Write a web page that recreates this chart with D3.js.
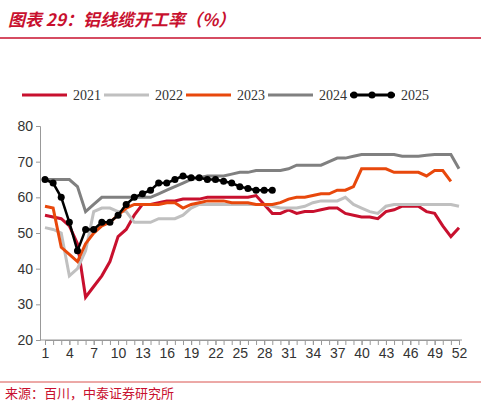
<!DOCTYPE html>
<html><head><meta charset="utf-8">
<script src="https://cdn.jsdelivr.net/npm/d3@7"></script>
<style>body{margin:0;background:#fff;font-family:"Noto Sans CJK SC","Liberation Sans",sans-serif;}</style>
</head><body>
<script>
var weeks = d3.range(1, 53);
var xTicks = [1,4,7,10,13,16,19,22,25,28,31,34,37,40,43,46,49,52];
var yTicks = [20,30,40,50,60,70,80];
var s2021 = [55,54.5,54,52,47,32,35,38,42,49,51,55,58,58,58.5,59,59,59.5,59.5,59.5,60,60,60,60,60,60,60.5,58,55.5,55.5,56.5,55.5,56,56,56.5,57,57,55.5,55,54.5,54.5,54,56,56.5,57.5,57.5,57.5,56,55.5,52,49,51.5];
var s2022 = [51.5,51,50,38,40,45,56,57,57,56,56,53,53,53,54,54,54,55,57,58,58,58,58,58,58,58,58,58,57.5,57,57,57,57.5,58.5,59,59,59,60,58,57,56,55.5,57.5,58,58,58,58,58,58,58,58,57.5];
var s2023 = [57.5,57,46,44,42,47,50,52,53,55,57,58,58,58,58,58.5,58.5,57,58,58.5,59,59,59,58.5,58.5,58.5,58,58,58,58.5,59.5,60,60,60.5,61,61,62,62,63,68,68,68,68,67,67,67,67,66,67.5,67.5,64.5];
var s2024 = [65,65,65,65,63,56,58,60,60,60,60,60,60,60,61,62,63,64,65,65.5,66,66,66,66.5,67,67,67.5,67.5,67.5,67.5,68,69,69,69,69,70,71,71,71.5,72,72,72,72,72,71.5,71.5,71.5,71.8,72,72,72,68];
var s2025 = [65,64,60,53,45,51,51,53,53,55,58,60,61,62,64,64,65,66,65.5,65.5,65,65,64.5,64,63,62.5,62,62,62];
var names = ["2021","2022","2023","2024","2025"];
var colors = ["#c8102e","#c0c0c0","#e8480c","#808080","#000000"];
var series = [s2021,s2022,s2023,s2024,s2025];

var svg = d3.select("body").append("svg").attr("width",481).attr("height",405);

// title
svg.append("text").attr("x",8).attr("y",26).attr("fill","#c8102e")
  .attr("font-size",17).attr("font-weight","bold").attr("font-style","italic")
  .text("图表 29：铝线缆开工率（%）");
svg.append("line").attr("x1",0).attr("x2",481).attr("y1",38).attr("y2",38)
  .attr("stroke","#c8102e").attr("stroke-width",1.5);

var x = d3.scaleLinear().domain([1,52]).range([45,459]);
var y = d3.scaleLinear().domain([20,80]).range([340,126]);

var ya = svg.append("g").attr("transform","translate(40,0)")
  .call(d3.axisLeft(y).tickValues(yTicks).tickSize(4).tickFormat(d3.format("d")));
ya.selectAll("text").attr("font-size",14).attr("fill","#333").attr("font-family","Liberation Sans,sans-serif");
ya.selectAll("line,path").attr("stroke","#999");

// minor week ticks
svg.append("g").attr("transform","translate(0,340)")
  .call(d3.axisBottom(x).tickValues(weeks).tickSize(5).tickFormat(""))
  .selectAll("line,path").attr("stroke","#999");
var xa = svg.append("g").attr("transform","translate(0,340)")
  .call(d3.axisBottom(x).tickValues(xTicks).tickSize(5).tickFormat(d3.format("d")));
xa.select(".domain").attr("d","M40,0H462");
xa.selectAll("text").attr("font-size",14).attr("fill","#333").attr("font-family","Liberation Sans,sans-serif");
xa.selectAll("line,path").attr("stroke","#999");

var line = d3.line().x((d,i)=>x(i+1)).y(d=>y(d));
series.forEach(function(s,k){
  svg.append("path").attr("d",line(s)).attr("fill","none")
    .attr("stroke",colors[k]).attr("stroke-width",k==4?2.5:3);
});
svg.selectAll("circle.p").data(s2025).enter().append("circle")
  .attr("cx",(d,i)=>x(i+1)).attr("cy",d=>y(d)).attr("r",3.5).attr("fill","#000");

// legend
var lg = svg.append("g").attr("transform","translate(0,95)");
names.forEach(function(n,k){
  var lx = 22 + k*82;
  lg.append("line").attr("x1",lx).attr("x2",lx+45).attr("stroke",colors[k]).attr("stroke-width",3);
  if(k==4) [lx+4,lx+22,lx+41].forEach(cx=>lg.append("circle").attr("cx",cx).attr("r",3.5));
  lg.append("text").attr("x",lx+51).attr("y",5).attr("font-size",14).attr("fill","#333")
    .attr("font-family","Liberation Serif,serif").text(n);
});

svg.append("line").attr("x1",0).attr("x2",481).attr("y1",382).attr("y2",382)
  .attr("stroke","#d9534f").attr("stroke-width",1);
svg.append("text").attr("x",5).attr("y",398).attr("font-size",13).attr("fill","#c8102e")
  .text("来源：百川，中泰证券研究所");
</script>
</body></html>
